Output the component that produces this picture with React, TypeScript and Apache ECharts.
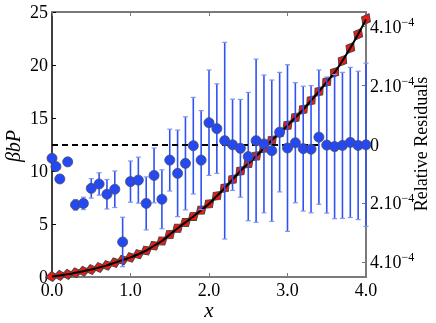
import React, { useEffect, useRef } from "react";
import * as echarts from "echarts";

// Theory curve (left axis, βbP)
const curveX = [0.0, 0.1, 0.2, 0.3, 0.4, 0.5, 0.6, 0.7, 0.8, 0.9, 1.0, 1.1, 1.2, 1.3, 1.4, 1.5, 1.6, 1.7, 1.8, 1.9, 2.0, 2.1, 2.2, 2.3, 2.4, 2.5, 2.6, 2.7, 2.8, 2.9, 3.0, 3.1, 3.2, 3.3, 3.4, 3.5, 3.6, 3.7, 3.8, 3.9, 4.0];
const curveY = [0.05, 0.15, 0.25, 0.4, 0.55, 0.7, 0.9, 1.1, 1.35, 1.6, 1.85, 2.15, 2.5, 2.95, 3.4, 4.0, 4.6, 5.15, 5.7, 6.3, 6.9, 7.65, 8.4, 9.2, 10.0, 10.7, 11.4, 12.15, 12.9, 13.6, 14.3, 15.05, 15.8, 16.65, 17.5, 18.4, 19.3, 20.4, 21.6, 22.9, 24.3];

// Relative residuals (right axis, units of 1e-4)
const resX = [0.0, 0.05, 0.1, 0.2, 0.3, 0.4, 0.5, 0.6, 0.7, 0.8, 0.9, 1.0, 1.1, 1.2, 1.3, 1.4, 1.5, 1.6, 1.7, 1.8, 1.9, 2.0, 2.1, 2.2, 2.3, 2.4, 2.5, 2.6, 2.7, 2.8, 2.9, 3.0, 3.1, 3.2, 3.3, 3.4, 3.5, 3.6, 3.7, 3.8, 3.9, 4.0];
const resY = [-0.47, -0.75, -1.17, -0.59, -2.05, -2.0, -1.49, -1.34, -1.69, -1.52, -3.31, -1.26, -1.21, -2.0, -1.05, -1.86, -0.53, -0.98, -0.64, -0.04, -0.53, 0.74, 0.54, 0.13, -0.01, -0.13, -0.41, 0.13, 0.02, -0.21, 0.42, -0.12, 0.06, -0.14, -0.16, 0.25, -0.02, -0.07, -0.03, 0.07, -0.03, -0.01];
const resErr = [0.05, 0.05, 0.05, 0.05, 0.18, 0.21, 0.33, 0.38, 0.5, 0.62, 0.84, 0.7, 0.78, 0.9, 0.93, 1.0, 1.05, 1.47, 1.58, 1.64, 1.68, 1.79, 1.52, 3.34, 1.55, 1.66, 2.18, 2.77, 2.34, 2.4, 2.03, 2.83, 2.04, 2.12, 2.16, 2.28, 2.31, 2.45, 2.48, 2.55, 2.52, 2.77];

const xTicks = [0, 1, 2, 3, 4];
const leftTicks = [0, 5, 10, 15, 20, 25];
const rightTicks = [-4, -2, 0, 2, 4];

const FONT = "'Liberation Serif', 'DejaVu Serif', serif";

// layout
const GRID = { left: 52, right: 70, top: 12, bottom: 46 };
const W = 436;
const H = 323;

export default function App() {
  const ref = useRef<HTMLDivElement>(null);
  useEffect(() => {
    if (!ref.current) return;
    const chart = echarts.init(ref.current, null, { renderer: "svg" });
    // pixel scale factors for orienting the diamond markers along the curve
    const pxX = (W - GRID.left - GRID.right) / (xTicks[xTicks.length - 1] - xTicks[0]);
    const pxY = (H - GRID.top - GRID.bottom) / (leftTicks[leftTicks.length - 1] - leftTicks[0]);
    const curveData = curveX.map((x, i) => [x, curveY[i]]);
    const diamondData = curveX.map((x, i) => {
      const a = Math.max(0, i - 1);
      const b = Math.min(curveX.length - 1, i + 1);
      const ang = (Math.atan2((curveY[b] - curveY[a]) * pxY, (curveX[b] - curveX[a]) * pxX) * 180) / Math.PI;
      return { value: [x, curveY[i]], symbolRotate: ang };
    });
    const resData = resX.map((x, i) => [x, resY[i]]);
    const errData = resX.map((x, i) => [x, resY[i] - resErr[i], resY[i] + resErr[i]]);
    const gray = "#7a7a7a";
    const labelStyle = { color: "#000", fontFamily: FONT, fontSize: 18 };
    chart.setOption({
      animation: false,
      grid: GRID,
      xAxis: [
        {
          type: "value", min: xTicks[0], max: xTicks[xTicks.length - 1], interval: 1,
          axisLine: { show: true, onZero: false, lineStyle: { color: gray, width: 2 } },
          axisTick: { show: true, inside: true, length: 4, lineStyle: { color: gray } },
          axisLabel: { ...labelStyle, margin: 4, formatter: (v: number) => v.toFixed(1) },
          splitLine: { show: false },
        },
        {
          type: "value", position: "top", min: 0, max: 4, interval: 1,
          axisLine: { show: true, onZero: false, lineStyle: { color: gray, width: 2 } },
          axisTick: { show: true, inside: true, length: 4, lineStyle: { color: gray } },
          axisLabel: { show: false },
          splitLine: { show: false },
        },
      ],
      yAxis: [
        {
          type: "value", min: leftTicks[0], max: leftTicks[leftTicks.length - 1], interval: 5,
          axisLine: { show: true, onZero: false, lineStyle: { color: "#000", width: 1.5 } },
          axisTick: { show: true, inside: true, length: 4, lineStyle: { color: "#000" } },
          axisLabel: { ...labelStyle, margin: 4 },
          splitLine: { show: false },
        },
        {
          type: "value", position: "right", min: -4.5, max: 4.5,
          axisLine: { show: true, onZero: false, lineStyle: { color: gray, width: 2 } },
          axisTick: { show: true, inside: true, length: 4, lineStyle: { color: gray }, customValues: rightTicks },
          axisLabel: {
            ...labelStyle, margin: 4, customValues: rightTicks,
            formatter: (v: number) => (Math.abs(v) < 1e-9 ? "{b|0}" : `{b|${Math.round(Math.abs(v))}.10}{s|−4}`),
            rich: {
              b: { fontFamily: FONT, fontSize: 18, color: "#000" },
              s: { fontFamily: FONT, fontSize: 12, color: "#000", padding: [0, 0, 10, 0] },
            },
          },
          splitLine: { show: false },
        },
      ],
      graphic: [
        {
          type: "text", x: 13, y: 146, rotation: Math.PI / 2,
          style: { text: "βbP", font: `italic 20px ${FONT}`, fill: "#000", align: "center", verticalAlign: "middle" },
        },
        {
          type: "text", x: 421, y: 144, rotation: Math.PI / 2,
          style: { text: "Relative Residuals", font: `18px ${FONT}`, fill: "#000", align: "center", verticalAlign: "middle" },
        },
        {
          type: "text", x: 209, y: 310,
          style: { text: "x", font: `italic 21px ${FONT}`, fill: "#000", align: "center", verticalAlign: "middle" },
        },
      ],
      series: [
        {
          type: "scatter", xAxisIndex: 0, yAxisIndex: 0, data: diamondData,
          symbol: "diamond", symbolSize: [13, 10],
          itemStyle: { color: "#ec1c14", borderColor: "#444", borderWidth: 1, opacity: 1 },
          z: 2,
        },
        {
          type: "line", xAxisIndex: 0, yAxisIndex: 0, data: curveData, smooth: true,
          showSymbol: false, symbol: "none",
          lineStyle: { color: "#000", width: 2 },
          z: 3,
        },
        {
          type: "custom", xAxisIndex: 0, yAxisIndex: 1, data: errData,
          renderItem: (params: any, api: any) => {
            const x = api.value(0);
            const lo = api.coord([x, api.value(1)]);
            const hi = api.coord([x, api.value(2)]);
            const c = "#2f52f2";
            const w = 2.5;
            return {
              type: "group",
              children: [
                { type: "line", shape: { x1: lo[0], y1: lo[1], x2: hi[0], y2: hi[1] }, style: { stroke: c, lineWidth: 1.6 } },
                { type: "line", shape: { x1: lo[0] - w, y1: lo[1], x2: lo[0] + w, y2: lo[1] }, style: { stroke: "#7d93f5", lineWidth: 1.2 } },
                { type: "line", shape: { x1: hi[0] - w, y1: hi[1], x2: hi[0] + w, y2: hi[1] }, style: { stroke: "#7d93f5", lineWidth: 1.2 } },
              ],
            };
          },
          z: 4,
        },
        {
          type: "scatter", xAxisIndex: 0, yAxisIndex: 1, data: resData,
          symbol: "circle", symbolSize: 10,
          itemStyle: { color: "#2449f2", borderColor: "#4a4a5a", borderWidth: 0.8, opacity: 1 },
          markLine: {
            silent: true, symbol: "none", label: { show: false },
            lineStyle: { color: "#000", type: [6, 4], width: 2 },
            data: [{ yAxis: 0 }],
          },
          z: 5,
        },
      ],
    });
    return () => chart.dispose();
  }, []);
  return <div ref={ref} style={{ position: "fixed", left: 0, top: 0, width: W, height: H }} />;
}
